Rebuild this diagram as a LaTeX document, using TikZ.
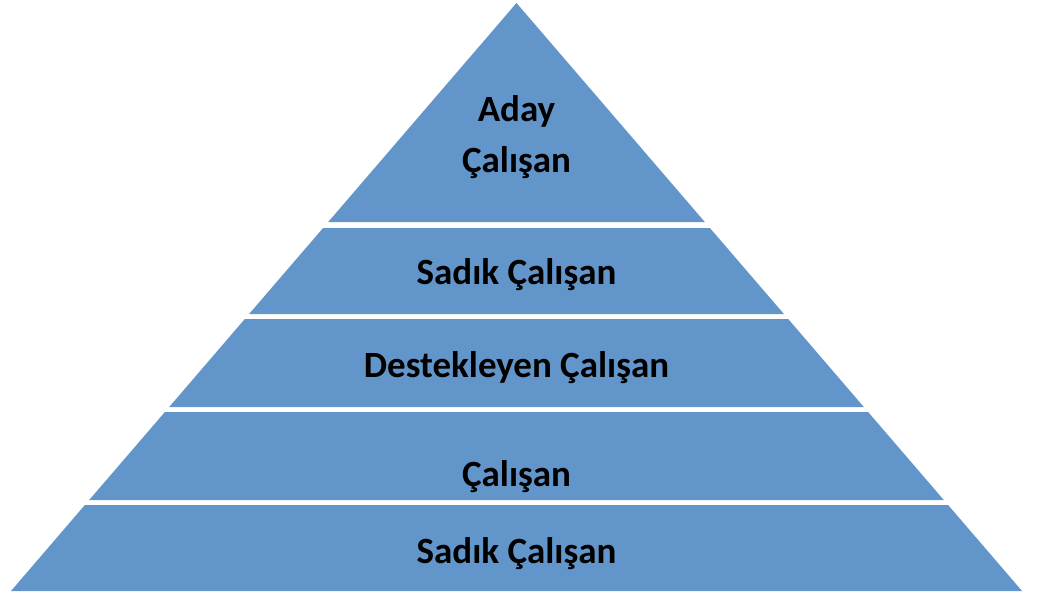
\documentclass[tikz,border=0pt]{standalone}
\usepackage{fontspec}
\setmainfont{Carlito}
\definecolor{layerblue}{RGB}{98,150,202}
\tikzset{
  layer/.style={fill=layerblue, draw=none},
  label/.style={font=\fontsize{37}{50}\selectfont\bfseries, text=black, anchor=base, align=center, inner sep=0pt}
}
\begin{document}
\begin{tikzpicture}[x=1pt,y=-1pt]
\useasboundingbox (0,0) rectangle (1039,599);
% five stacked layers of the pyramid, separated by thin white gaps
\path[layer] (516.5,3) -- (704.8,222) -- (328.2,222) -- cycle;
\path[layer] (323.1,228) -- (709.9,228) -- (783.9,314) -- (249.1,314) -- cycle;
\path[layer] (244.8,319) -- (788.2,319) -- (863.8,407) -- (169.2,407) -- cycle;
\path[layer] (164.9,412) -- (868.1,412) -- (943.8,500) -- (89.2,500) -- cycle;
\path[layer] (84.9,505) -- (948.1,505) -- (1022,591) -- (11,591) -- cycle;
% layer captions
\node[label] (aday) at (516.5,122) {Aday};
\node[label] (adaycal) at (516.5,172) {Çalışan};
\node[label] (sadik1) at (516.5,284) {Sadık Çalışan};
\node[label] (destek) at (516.5,377) {Destekleyen Çalışan};
\node[label] (calisan) at (516.5,486) {Çalışan};
\node[label] (sadik2) at (516.5,563) {Sadık Çalışan};
\end{tikzpicture}
\end{document}
